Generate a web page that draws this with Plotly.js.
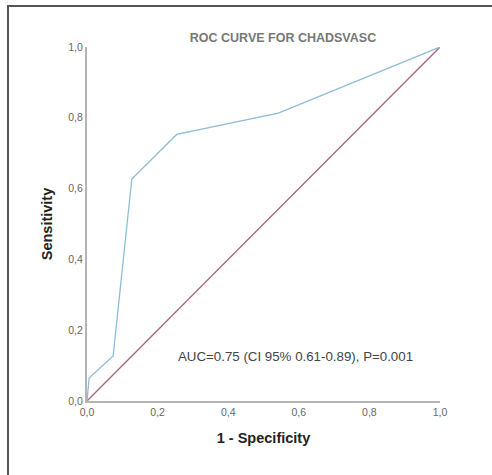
<!DOCTYPE html>
<html><head><meta charset="utf-8">
<script src="https://cdn.plot.ly/plotly-3.0.1.min.js"></script>
<style>
html,body{margin:0;padding:0;background:#fff;}
#wrap{position:relative;width:492px;height:475px;}
#chart{position:absolute;left:0;top:0;width:492px;height:475px;}
#fl{position:absolute;left:7px;top:5px;width:2px;height:470px;background:#555;}
#ft{position:absolute;left:7px;top:5px;width:485px;height:2px;background:#555;}
</style></head>
<body><div id="wrap"><div id="chart"></div><div id="fl"></div><div id="ft"></div></div>
<script>
const fpr = [0, 0.006, 0.074, 0.127, 0.254, 0.542, 1.0];
const tpr = [0, 0.065, 0.127, 0.627, 0.753, 0.813, 1.0];
const refX = [0, 1];
const refY = [0, 1];
const tickVals = [0, 0.2, 0.4, 0.6, 0.8, 1.0];
const tickText = ["0,0", "0,2", "0,4", "0,6", "0,8", "1,0"];
const titleText = "ROC CURVE FOR CHADSVASC";
const aucText = "AUC=0.75 (CI 95% 0.61-0.89), P=0.001";

const FONT = 'Liberation Sans, Arial, sans-serif';
const traces = [
  {x: refX, y: refY, mode: 'lines', line: {color: '#a8637a', width: 1.3}, hoverinfo: 'skip', cliponaxis: false},
  {x: fpr, y: tpr, mode: 'lines', line: {color: '#8dbcd8', width: 1.3}, hoverinfo: 'skip', cliponaxis: false}
];
const axBase = {
  range: [0, 1], tickvals: tickVals, ticktext: tickText, showgrid: false, zeroline: false,
  showline: true, linecolor: '#b4b4b4', linewidth: 2, ticks: '', fixedrange: true,
  tickfont: {family: FONT, size: 10.5, color: '#666'}
};
const layout = {
  width: 492, height: 475,
  margin: {l: 87, r: 52, t: 47, b: 74},
  paper_bgcolor: '#fff', plot_bgcolor: '#fff',
  showlegend: false,
  title: {text: '<b>' + titleText + '</b>', xref: 'paper', x: (283-87)/353, xanchor: 'center', y: 1 - 38/475, yanchor: 'middle',
    font: {family: FONT, size: 12.5, color: '#777'}},
  xaxis: Object.assign({}, axBase, {
    title: {text: '<b>1 - Specificity</b>', standoff: 16, font: {family: FONT, size: 14.5, color: '#222'}}
  }),
  yaxis: Object.assign({}, axBase, {
    title: {text: '<b>Sensitivity</b>', standoff: 12, font: {family: FONT, size: 14.5, color: '#222'}}
  }),
  annotations: [{
    text: aucText, xref: 'x', yref: 'y', x: 0.253, y: 0.125, xanchor: 'left', yanchor: 'middle', showarrow: false,
    font: {family: FONT, size: 13.3, color: '#444'}
  }]
};
Plotly.newPlot('chart', traces, layout, {displayModeBar: false, staticPlot: true});
</script></body></html>
